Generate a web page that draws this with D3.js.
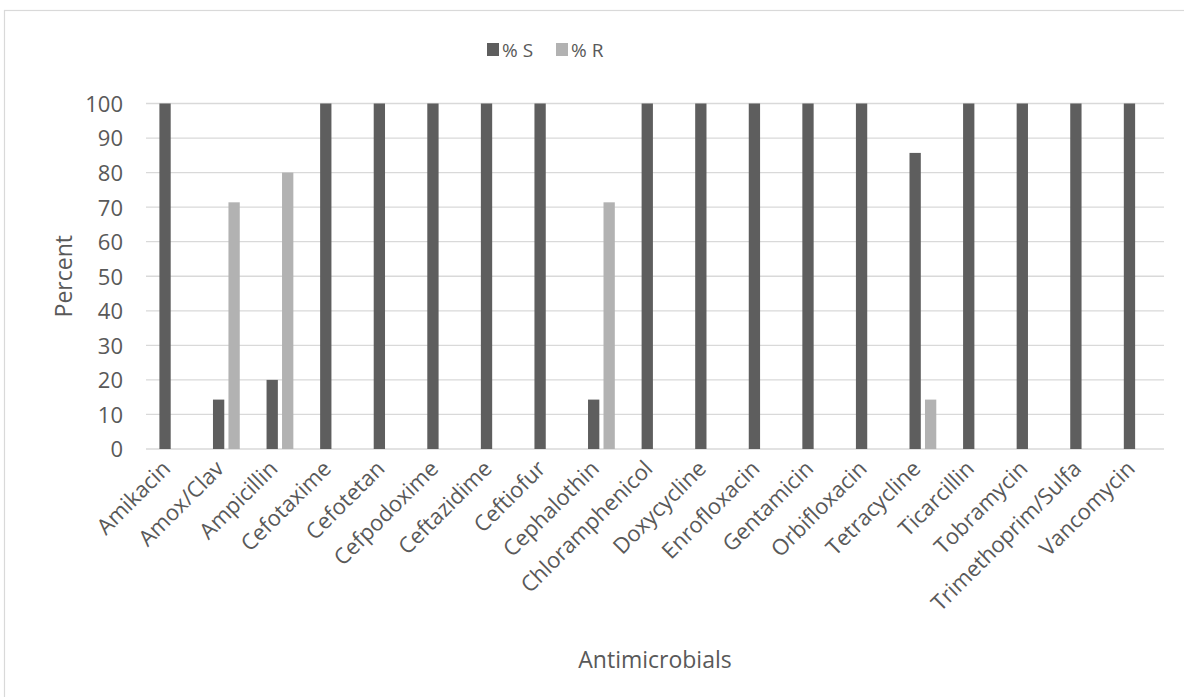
<!DOCTYPE html>
<html>
<head>
<meta charset="utf-8">
<script src="https://cdn.jsdelivr.net/npm/d3@7"></script>
<style>
  html, body { margin: 0; padding: 0; background: #fff; }
  svg { display: block; }
  svg text { font-family: "Open Sans", "Noto Sans", sans-serif; }
</style>
</head>
<body>
<svg id="chart" width="1184" height="697"></svg>
<script>
// Antimicrobial susceptibility: percent susceptible (S) and resistant (R)
const categories = ["Amikacin", "Amox/Clav", "Ampicillin", "Cefotaxime", "Cefotetan",
  "Cefpodoxime", "Ceftazidime", "Ceftiofur", "Cephalothin", "Chloramphenicol",
  "Doxycycline", "Enrofloxacin", "Gentamicin", "Orbifloxacin", "Tetracycline",
  "Ticarcillin", "Tobramycin", "Trimethoprim/Sulfa", "Vancomycin"];
const percentS = [100, 14.3, 20, 100, 100, 100, 100, 100, 14.3, 100,
  100, 100, 100, 100, 85.7, 100, 100, 100, 100];
const percentR = [0, 71.4, 80, 0, 0, 0, 0, 0, 71.4, 0,
  0, 0, 0, 0, 14.3, 0, 0, 0, 0];
const seriesNames = ["% S", "% R"];
const yTicks = [0, 10, 20, 30, 40, 50, 60, 70, 80, 90, 100];

const colors = { "% S": "#5e5e5e", "% R": "#b2b2b2" };
const textColor = "#595959";
const fontFamily = "'Open Sans', 'Noto Sans', sans-serif";

const svg = d3.select("#chart");

// outer chart frame
svg.append("rect")
  .attr("x", 4.5).attr("y", 10.5)
  .attr("width", 1300).attr("height", 800)
  .attr("fill", "none").attr("stroke", "#d9d9d9").attr("stroke-width", 1.2);

const plot = { left: 146, right: 1164, top: 103.5, bottom: 449 };

const x0 = d3.scaleBand()
  .domain(categories)
  .range([plot.left, plot.right])
  .paddingInner(0.5)
  .paddingOuter(0.25);

const x1 = d3.scaleBand()
  .domain(seriesNames)
  .range([0, x0.bandwidth()])
  .paddingInner(0.27);

const y = d3.scaleLinear().domain([0, 100]).range([plot.bottom, plot.top]);

// horizontal gridlines
svg.append("g")
  .selectAll("line")
  .data(yTicks)
  .join("line")
  .attr("x1", plot.left).attr("x2", plot.right)
  .attr("y1", d => y(d)).attr("y2", d => y(d))
  .attr("stroke", "#d9d9d9").attr("stroke-width", 1.3);

// y axis labels
const yAxis = d3.axisLeft(y).tickValues(yTicks).tickSize(0).tickPadding(0);
const yg = svg.append("g")
  .attr("transform", `translate(${plot.left - 23},0)`)
  .call(yAxis)
  .attr("font-family", fontFamily)
  .attr("font-size", 22);
yg.select(".domain").remove();
yg.selectAll("text")
  .attr("fill", textColor)
  .attr("dy", "0.36em");

// bars
const rows = categories.map((c, i) => ({ cat: c, values: [
  { key: "% S", value: percentS[i] },
  { key: "% R", value: percentR[i] }
]}));

svg.append("g")
  .selectAll("g")
  .data(rows)
  .join("g")
  .attr("transform", d => `translate(${x0(d.cat)},0)`)
  .selectAll("rect")
  .data(d => d.values.filter(v => v.value > 0))
  .join("rect")
  .attr("x", d => x1(d.key))
  .attr("width", x1.bandwidth())
  .attr("y", d => y(d.value))
  .attr("height", d => y(0) - y(d.value))
  .attr("fill", d => colors[d.key]);

// x axis labels, rotated
const xAxis = d3.axisBottom(x0).tickSize(0).tickPadding(0);
const xg = svg.append("g")
  .attr("transform", `translate(0,${plot.bottom})`)
  .call(xAxis)
  .attr("font-family", fontFamily)
  .attr("font-size", 22);
xg.select(".domain").remove();
xg.selectAll("text")
  .attr("fill", textColor)
  .attr("text-anchor", "end")
  .attr("dy", "0")
  .attr("transform", "translate(-1,21) rotate(-45)");

// axis titles
svg.append("text")
  .attr("x", (plot.left + plot.right) / 2)
  .attr("y", 668)
  .attr("text-anchor", "middle")
  .attr("fill", textColor)
  .attr("font-size", 23)
  .text("Antimicrobials");

svg.append("text")
  .attr("transform", `translate(72,${(plot.top + plot.bottom) / 2}) rotate(-90)`)
  .attr("text-anchor", "middle")
  .attr("fill", textColor)
  .attr("font-size", 23)
  .text("Percent");

// legend
const legend = svg.append("g");
const legendX = [487, 556];
seriesNames.forEach((s, i) => {
  legend.append("rect")
    .attr("x", legendX[i]).attr("y", 43)
    .attr("width", 12).attr("height", 13)
    .attr("fill", colors[s]);
  legend.append("text")
    .attr("x", legendX[i] + 15).attr("y", 50)
    .attr("dy", "0.36em")
    .attr("fill", textColor)
    .attr("font-size", 19)
    .text(s);
});
</script>
</body>
</html>
